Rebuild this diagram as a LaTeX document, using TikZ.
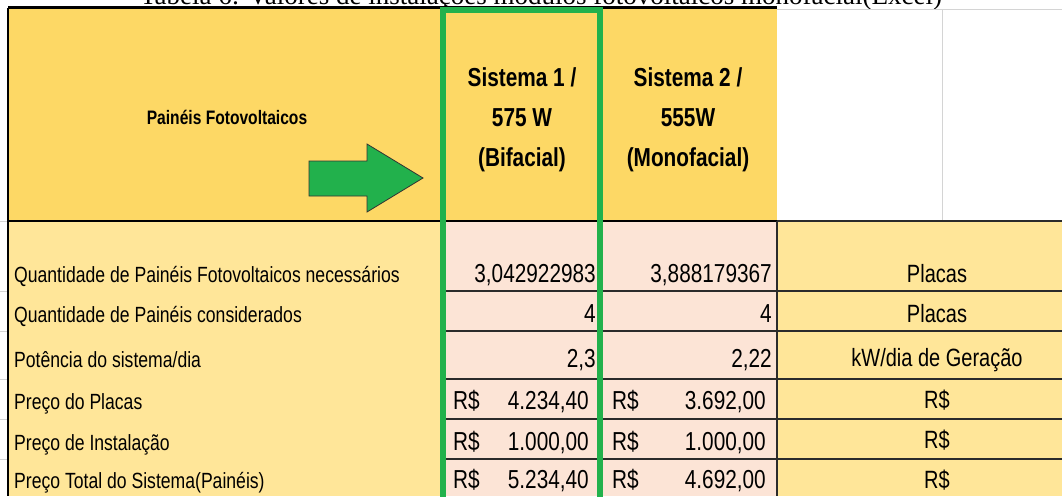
\documentclass[tikz,border=0pt]{standalone}
\usepackage{fontspec}
\setmainfont{Liberation Sans}
\newfontfamily\nf[FakeStretch=0.8]{Liberation Sans}
\newfontfamily\nfb[FakeStretch=0.8]{Liberation Sans Bold}
\newfontfamily\capf{Liberation Serif}
\definecolor{hdr}{HTML}{FDD865}
\definecolor{lyel}{HTML}{FFE699}
\definecolor{pink}{HTML}{FCE4D6}
\definecolor{grn}{HTML}{22B14C}
\definecolor{grid}{HTML}{D4D4D4}
\definecolor{dline}{HTML}{2B2B2B}
\tikzset{
  lbl/.style={inner sep=0pt, anchor=base west, font=\nf\fontsize{22}{26}\selectfont},
  valr/.style={inner sep=0pt, anchor=base east, font=\nf\fontsize{26}{30}\selectfont},
  vall/.style={inner sep=0pt, anchor=base west, font=\nf\fontsize{26}{30}\selectfont},
  unit/.style={inner sep=0pt, anchor=base, font=\nf\fontsize{25}{30}\selectfont},
  hd/.style={inner sep=0pt, anchor=base, font=\nfb\fontsize{26}{30}\selectfont},
  rowline/.style={draw=dline, line width=1.2pt},
  gridline/.style={draw=grid, line width=1pt}
}
\begin{document}
\begin{tikzpicture}[x=1pt,y=-1pt]
\useasboundingbox (0,0) rectangle (1062,496);
\fill[white] (0,0) rectangle (1062,496);
% caption (cut off at top)
\begin{scope}
\clip (0,0) rectangle (1062,496);
\node[inner sep=0pt, anchor=base, font=\capf\fontsize{27}{30}\selectfont] (cap) at (541,4) {Tabela 6: Valores de instalações modulos fotovoltaicos monofacial(Excel)};
\end{scope}
% fills
\fill[hdr] (8,8) rectangle (777,221);
\fill[lyel] (8,221) rectangle (440,496);
\fill[pink] (440,221) rectangle (777,496);
\fill[lyel] (777,221) rectangle (1062,496);
% grid in white area
\draw[gridline] (777,9) -- (1062,9);
\draw[gridline] (942,9) -- (942,221);
\foreach \yy in {221,291,331,379,419,459} \draw[gridline] (0,\yy) -- (7,\yy);
% borders
\draw[black, line width=2.2pt] (8,7.5) -- (777,7.5);
\draw[black, line width=1.6pt] (8,7.5) -- (8,496);
\draw[black, line width=1.8pt] (8,221) -- (777,221);
\draw[dline, line width=1.4pt] (777,221) -- (1062,221);
\draw[dline, line width=1.4pt] (777,221) -- (777,496);
\foreach \yy in {291,331,379,419,459} {
  \draw[rowline] (440,\yy) -- (1062,\yy);
}
% green frame
\draw[grn, line width=6pt] (442.5,499) -- (442.5,9.5) -- (599.7,9.5) -- (599.7,499);
% arrow
\draw[fill=grn, draw=black!80, line width=0.8pt] (309,161) -- (367,161) -- (367,144) -- (423,178) -- (367,212) -- (367,196) -- (309,196) -- cycle;
% header texts
\node[inner sep=0pt, anchor=base, font=\nfb\fontsize{19.5}{24}\selectfont] (pf) at (227,124) {Painéis Fotovoltaicos};
\node[hd] (s1a) at (522,86) {Sistema 1 /};
\node[hd] (s1b) at (522,126) {575 W};
\node[hd] (s1c) at (522,166) {(Bifacial)};
\node[hd] (s2a) at (688,86) {Sistema 2 /};
\node[hd] (s2b) at (688,126) {555W};
\node[hd] (s2c) at (688,166) {(Monofacial)};
% left labels
\node[lbl] (l1) at (14,282) {Quantidade de Painéis Fotovoltaicos necessários};
\node[lbl] (l2) at (14,322) {Quantidade de Painéis considerados};
\node[lbl] (l3) at (14,367) {Potência do sistema/dia};
\node[lbl] (l4) at (14,409) {Preço do Placas};
\node[lbl] (l5) at (14,450) {Preço de Instalação};
\node[lbl] (l6) at (14,488) {Preço Total do Sistema(Painéis)};
% system 1 values
\node[valr] (a1) at (596,282) {3,042922983};
\node[valr] (a2) at (596,322) {4};
\node[valr] (a3) at (596,367) {2,3};
\node[vall] (a4c) at (453,409) {R\$};
\node[valr] (a4) at (589,409) {4.234,40};
\node[vall] (a5c) at (453,450) {R\$};
\node[valr] (a5) at (589,450) {1.000,00};
\node[vall] (a6c) at (453,488) {R\$};
\node[valr] (a6) at (589,488) {5.234,40};
% system 2 values
\node[valr] (b1) at (772,282) {3,888179367};
\node[valr] (b2) at (772,322) {4};
\node[valr] (b3) at (772,367) {2,22};
\node[vall] (b4c) at (612,409) {R\$};
\node[valr] (b4) at (766,409) {3.692,00};
\node[vall] (b5c) at (612,450) {R\$};
\node[valr] (b5) at (766,450) {1.000,00};
\node[vall] (b6c) at (612,488) {R\$};
\node[valr] (b6) at (766,488) {4.692,00};
% units
\node[unit] (u1) at (937,282) {Placas};
\node[unit] (u2) at (937,322) {Placas};
\node[unit] (u3) at (937,366) {kW/dia de Geração};
\node[unit] (u4) at (937,408) {R\$};
\node[unit] (u5) at (937,448) {R\$};
\node[unit] (u6) at (937,488) {R\$};
\end{tikzpicture}
\end{document}
